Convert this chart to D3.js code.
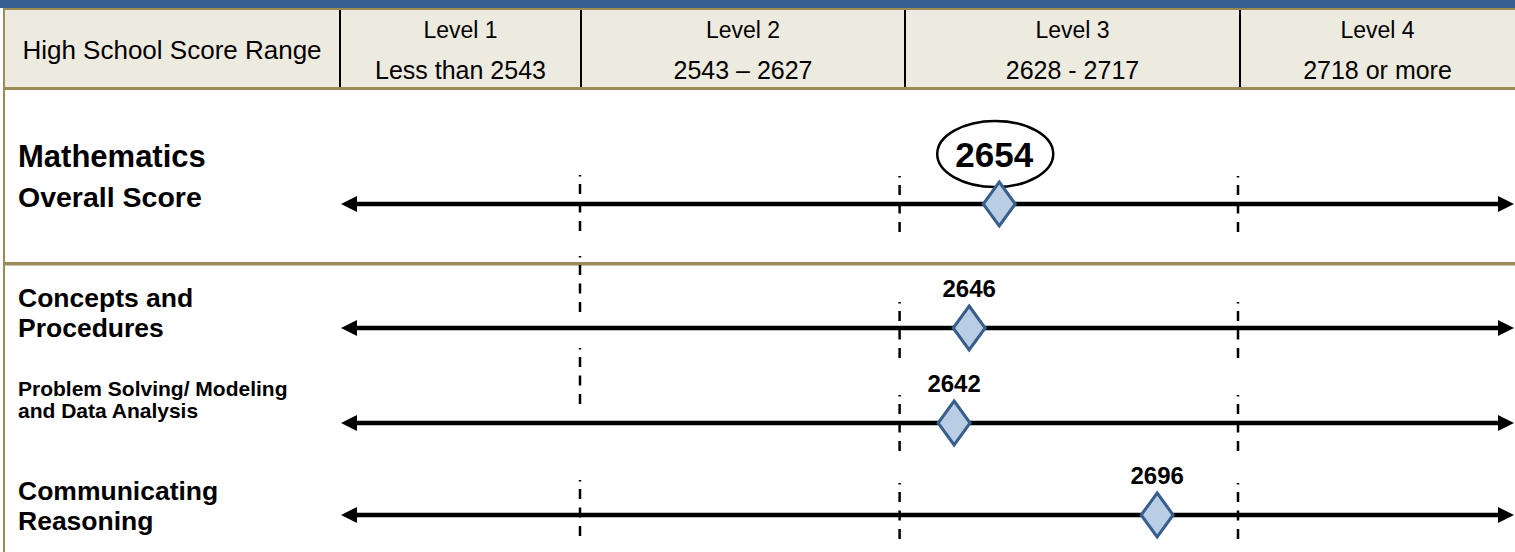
<!DOCTYPE html>
<html>
<head>
<meta charset="utf-8">
<script src="https://cdn.jsdelivr.net/npm/d3@7"></script>
<style>
body { margin: 0; background: #fff; }
text { font-family: Arial, "Liberation Sans", sans-serif; fill: #000; }
</style>
</head>
<body>
<div id="chart"></div>
<script>
var levels = ["Level 1", "Level 2", "Level 3", "Level 4"];
var levelRanges = ["Less than 2543", "2543 \u2013 2627", "2628 - 2717", "2718 or more"];
var levelStarts = [2543, 2628, 2718]; // first score of levels 2, 3, 4
var overallScore = 2654;
var claimNames = [["Concepts and", "Procedures"], ["Problem Solving/ Modeling", "and Data Analysis"], ["Communicating", "Reasoning"]];
var claimScores = [2646, 2642, 2696];

var W = 1515, H = 552;
var GOLD = "#9B8C57";
var colEdges = [4, 340, 581, 905, 1240, 1515];

var svg = d3.select("#chart").append("svg")
    .attr("width", W)
    .attr("height", H);

var x = d3.scaleLinear()
    .domain([levelStarts[0] - 0.5, levelStarts[2] - 0.5])
    .range([580, 1238]);

// header band
svg.append("rect").attr("x", 0).attr("y", 0).attr("width", W).attr("height", 8).attr("fill", "#366092");
svg.append("rect").attr("x", 4).attr("y", 10).attr("width", W - 4).attr("height", 78).attr("fill", "#EDEBE0");
svg.append("rect").attr("x", 3).attr("y", 8).attr("width", W - 3).attr("height", 2).attr("fill", GOLD);
svg.append("rect").attr("x", 3).attr("y", 87).attr("width", W - 3).attr("height", 3).attr("fill", GOLD);
svg.append("rect").attr("x", 3).attr("y", 8).attr("width", 2).attr("height", H - 8).attr("fill", GOLD);
svg.append("rect").attr("x", 3).attr("y", 262).attr("width", W - 3).attr("height", 3.5).attr("fill", GOLD);

svg.selectAll("line.sep")
    .data(colEdges.slice(1, 5))
    .enter().append("line")
    .attr("class", "sep")
    .attr("x1", function(d) { return d; })
    .attr("x2", function(d) { return d; })
    .attr("y1", 10)
    .attr("y2", 87)
    .attr("stroke", "#000")
    .attr("stroke-width", 2);

svg.append("text")
    .attr("x", (colEdges[0] + colEdges[1]) / 2)
    .attr("y", 59)
    .attr("text-anchor", "middle")
    .style("font-size", "26px")
    .text("High School Score Range");

var head = svg.selectAll("g.level")
    .data(levels)
    .enter().append("g")
    .attr("class", "level")
    .attr("transform", function(d, i) { return "translate(" + (colEdges[i + 1] + colEdges[i + 2]) / 2 + ",0)"; });

head.append("text")
    .attr("y", 38)
    .attr("text-anchor", "middle")
    .style("font-size", "23px")
    .text(function(d) { return d; });

head.append("text")
    .attr("y", 79)
    .attr("text-anchor", "middle")
    .style("font-size", "25px")
    .text(function(d, i) { return levelRanges[i]; });

// rows: overall first, then the claims
var rowY = [204, 328, 423, 515];
var dashTop = [-28, -26, -28, -32];
var firstCutTop = [-29, -72, -75, -35];

var rows = [{ score: overallScore, overall: true }].concat(claimScores.map(function(s) {
    return { score: s, overall: false };
}));

// row labels
var labelFont = [["31px", "28.5px"], ["26.5px", "26.5px"], ["21px", "21px"], ["26.5px", "26.5px"]];
var labelBase = [[167, 207], [307, 337], [396, 418], [500, 530]];
var allNames = [["Mathematics", "Overall Score"]].concat(claimNames);

allNames.forEach(function(lines, r) {
    lines.forEach(function(t, k) {
        svg.append("text")
            .attr("x", 18)
            .attr("y", labelBase[r][k])
            .style("font-size", labelFont[r][k])
            .style("font-weight", "bold")
            .text(t);
    });
});

var axisLeft = 341, axisRight = 1514, arrowLen = 16, arrowHalf = 8;

var row = svg.selectAll("g.row")
    .data(rows)
    .enter().append("g")
    .attr("class", "row")
    .attr("transform", function(d, i) { return "translate(0," + rowY[i] + ")"; });

row.append("line")
    .attr("x1", axisLeft + arrowLen - 2)
    .attr("x2", axisRight - arrowLen + 2)
    .attr("y1", 0)
    .attr("y2", 0)
    .attr("stroke", "#000")
    .attr("stroke-width", 4.5);

row.append("path")
    .attr("d", "M" + axisLeft + ",0L" + (axisLeft + arrowLen) + "," + (-arrowHalf) + "L" + (axisLeft + arrowLen) + "," + arrowHalf + "Z")
    .attr("fill", "#000");

row.append("path")
    .attr("d", "M" + axisRight + ",0L" + (axisRight - arrowLen) + "," + (-arrowHalf) + "L" + (axisRight - arrowLen) + "," + arrowHalf + "Z")
    .attr("fill", "#000");

// level cut lines
row.each(function(d, r) {
    d3.select(this).selectAll("line.cut")
        .data(levelStarts)
        .enter().append("line")
        .attr("class", "cut")
        .attr("x1", function(c) { return x(c - 0.5); })
        .attr("x2", function(c) { return x(c - 0.5); })
        .attr("y1", function(c, i) { return i === 0 ? firstCutTop[r] : dashTop[r]; })
        .attr("y2", function(c, i) { return (i === 0 ? firstCutTop[r] : dashTop[r]) + 56; })
        .attr("stroke", "#000")
        .attr("stroke-width", 2.5)
        .attr("stroke-dasharray", "1.5,7.5,10,8.5,10,8.5,10");
});

// overall score bubble
var ov = row.filter(function(d) { return d.overall; });
ov.append("ellipse")
    .attr("cx", function(d) { return x(d.score) - 4; })
    .attr("cy", -50)
    .attr("rx", 58)
    .attr("ry", 33)
    .attr("fill", "#fff")
    .attr("stroke", "#000")
    .attr("stroke-width", 2.5);

ov.append("text")
    .attr("x", function(d) { return x(d.score) - 5; })
    .attr("y", -37)
    .attr("text-anchor", "middle")
    .style("font-size", "35px")
    .style("font-weight", "bold")
    .text(function(d) { return d.score; });

row.filter(function(d) { return !d.overall; })
    .append("text")
    .attr("x", function(d) { return x(d.score); })
    .attr("y", -31)
    .attr("text-anchor", "middle")
    .style("font-size", "24px")
    .style("font-weight", "bold")
    .text(function(d) { return d.score; });

row.append("path")
    .attr("d", "M0,-22L16,0L0,22L-16,0Z")
    .attr("transform", function(d) { return "translate(" + x(d.score) + ",0)"; })
    .attr("fill", "#B9CDE5")
    .attr("stroke", "#385E8C")
    .attr("stroke-width", 3)
    .attr("stroke-linejoin", "miter");
</script>
</body>
</html>
